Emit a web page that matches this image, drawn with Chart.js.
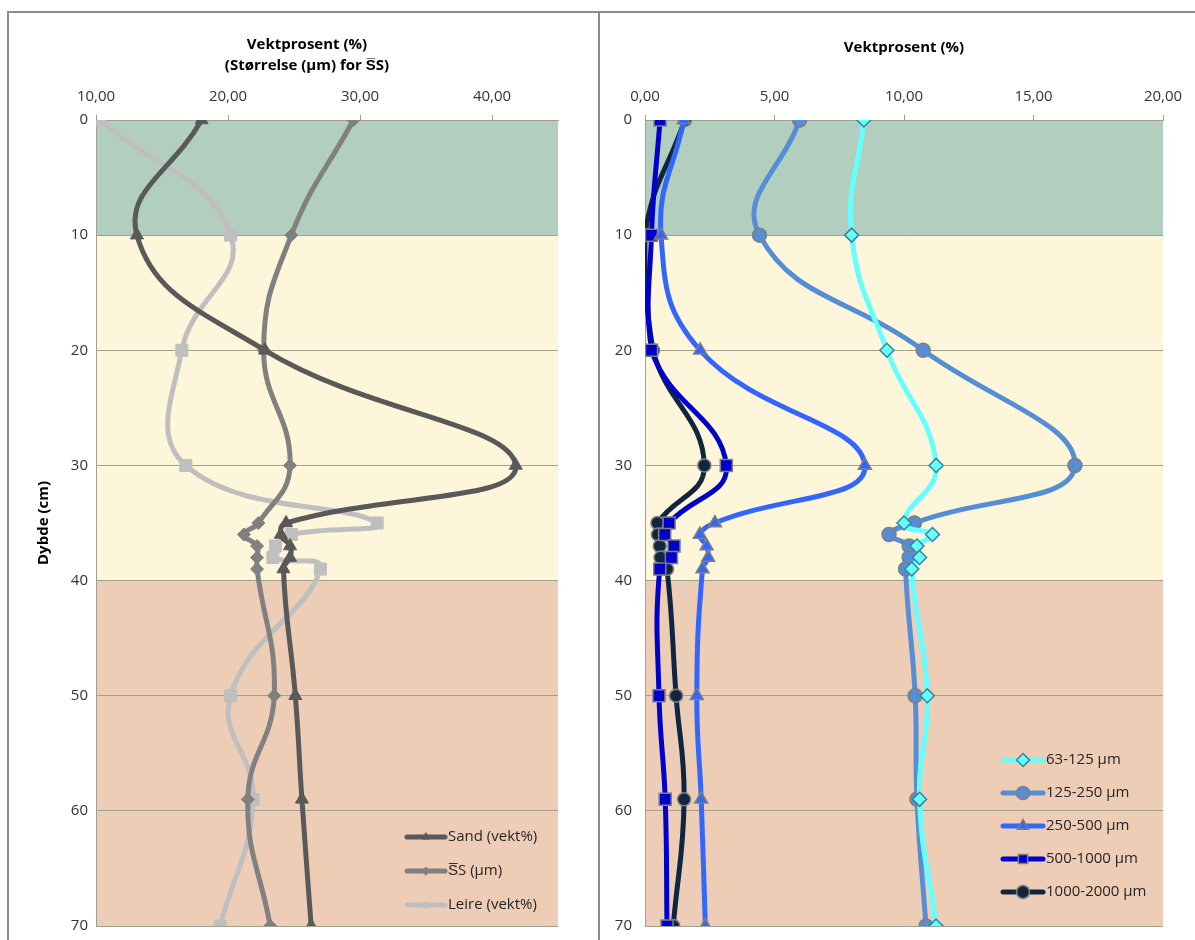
<!DOCTYPE html>
<html>
<head>
<meta charset="utf-8">
<script src="https://cdn.jsdelivr.net/npm/chart.js@4.4.1/dist/chart.umd.min.js"></script>
<style>
html,body{margin:0;padding:0;background:#fff;width:1195px;height:940px;overflow:hidden;position:relative}
.frame{position:absolute;box-sizing:border-box;border:2px solid #8c8c8c;border-bottom:none}
#f1{left:7px;top:11px;width:593px;height:929px}
#f2{left:598px;top:11px;width:600px;height:929px;border-right:none}
canvas{position:absolute;top:12px}
#c1{left:8px}
#c2{left:598px}
</style>
</head>
<body>
<div class="frame" id="f1"></div>
<div class="frame" id="f2"></div>
<canvas id="c1" width="590" height="944"></canvas>
<canvas id="c2" width="597" height="944"></canvas>
<script>
// ---------- data ----------
const depths = [0, 10, 20, 30, 35, 36, 37, 38, 39, 50, 59, 70];

const sand  = [18.0, 13.1, 22.8, 41.8, 24.4, 24.0, 24.7, 24.7, 24.2, 25.1, 25.6, 26.3];
const ssMean = [29.5, 24.8, 22.7, 24.7, 22.3, 21.2, 22.2, 22.2, 22.2, 23.5, 21.5, 23.2];
const leire = [10.3, 20.2, 16.5, 16.8, 31.3, 24.8, 23.6, 23.4, 27.0, 20.2, 21.9, 19.4];

const f63_125    = [8.45, 7.98, 9.34, 11.24, 10.0, 11.1, 10.5, 10.6, 10.3, 10.9, 10.6, 11.24];
const f125_250   = [5.97, 4.42, 10.74, 16.6, 10.4, 9.42, 10.2, 10.2, 10.06, 10.43, 10.5, 10.85];
const f250_500   = [1.5, 0.62, 2.13, 8.49, 2.7, 2.12, 2.38, 2.44, 2.22, 2.0, 2.17, 2.33];
const f500_1000  = [0.58, 0.25, 0.25, 3.14, 0.93, 0.76, 1.12, 1.02, 0.57, 0.54, 0.78, 0.85];
const f1000_2000 = [1.54, 0.0, 0.31, 2.29, 0.48, 0.5, 0.57, 0.6, 0.85, 1.2, 1.51, 1.09];

const leftLabels  = ['Sand (vekt%)', 'S\u0305S (\u00b5m)', 'Leire (vekt%)'];
const rightLabels = ['63-125 \u00b5m', '125-250 \u00b5m', '250-500 \u00b5m', '500-1000 \u00b5m', '1000-2000 \u00b5m'];

const leftTitle  = ['Vektprosent (%)', '(St\u00f8rrelse (\u00b5m) for S\u0305S)'];
const rightTitle = 'Vektprosent (%)';
const depthTitle = 'Dybde (cm)';

const leftXTicks  = [10, 20, 30, 40];
const leftXTickLabels = ['10,00', '20,00', '30,00', '40,00'];
const rightXTicks = [0, 5, 10, 15, 20];
const rightXTickLabels = ['0,00', '5,00', '10,00', '15,00', '20,00'];
const depthTicks = [0, 10, 20, 30, 40, 50, 60, 70];
const depthTickLabels = ['0', '10', '20', '30', '40', '50', '60', '70'];

const bandFrom = [0, 10, 40];
const bandTo   = [10, 40, 70];
const bandColors = ['#B2CEBF', '#FEF6DA', '#EDCDB5'];

// ---------- helpers ----------
const FONT = '"Open Sans", "Liberation Sans", sans-serif';
const GRID = '#A29E90';
const pts = (xs) => xs.map((v, i) => ({x: v, y: depths[i]}));

function series(label, values, color, style, radius, fill, border, bw) {
  return {
    label, data: pts(values), showLine: true,
    borderColor: color, borderWidth: 5, tension: 0.45,
    borderCapStyle: 'round', borderJoinStyle: 'round',
    pointStyle: style, pointRadius: radius, pointHoverRadius: radius,
    pointBackgroundColor: fill, pointBorderColor: border, pointBorderWidth: bw
  };
}

const bandsPlugin = {
  id: 'bands',
  beforeDraw(chart) {
    const {ctx, chartArea: a, scales: {y}} = chart;
    ctx.save();
    bandFrom.forEach((f, i) => {
      const y1 = y.getPixelForValue(f), y2 = y.getPixelForValue(bandTo[i]);
      ctx.fillStyle = bandColors[i];
      ctx.fillRect(a.left, Math.min(y1, y2), a.right - a.left, Math.abs(y2 - y1));
    });
    ctx.restore();
  }
};

const headPlugin = {
  id: 'head',
  afterDraw(chart, args, o) {
    if (!o.lines) return;
    const ctx = chart.ctx;
    ctx.save();
    ctx.fillStyle = '#000';
    ctx.font = 'bold 15px ' + FONT;
    ctx.textAlign = 'center';
    ctx.textBaseline = 'middle';
    o.lines.forEach((t, i) => ctx.fillText(t, o.x, o.y + i * o.dy));
    ctx.restore();
  }
};

const legendPlugin = {
  id: 'inLegend',
  afterDraw(chart, args, o) {
    const ctx = chart.ctx;
    ctx.save();
    chart.data.datasets.forEach((ds, i) => {
      const y = o.y + i * o.dy;
      ctx.strokeStyle = ds.borderColor;
      ctx.lineWidth = ds.borderWidth;
      ctx.lineCap = 'round';
      ctx.beginPath();
      ctx.moveTo(o.x, y);
      ctx.lineTo(o.x + o.len, y);
      ctx.stroke();
      ctx.fillStyle = ds.pointBackgroundColor;
      ctx.strokeStyle = ds.pointBorderColor;
      ctx.lineWidth = ds.pointBorderWidth;
      Chart.helpers.drawPoint(ctx, {pointStyle: ds.pointStyle, radius: o.r, rotation: 0, borderWidth: ds.pointBorderWidth}, o.x + o.len / 2, y);
      ctx.fillStyle = '#262626';
      ctx.font = '15px ' + FONT;
      ctx.textBaseline = 'middle';
      ctx.textAlign = 'left';
      ctx.fillText(ds.label, o.x + o.len + 3, y);
    });
    ctx.restore();
  }
};

function xScale(min, max, ticks, labels, axisHeight, title) {
  return {
    type: 'linear', position: 'top', min, max,
    afterBuildTicks: (s) => { s.ticks = ticks.map(v => ({value: v})); },
    afterFit: (s) => { s.height = axisHeight; },
    ticks: {
      padding: 9, color: '#333', font: {family: FONT, size: 15},
      callback: (v) => labels[ticks.indexOf(v)]
    },
    grid: {drawOnChartArea: false, drawTicks: true, tickLength: 5, color: GRID},
    border: {display: true, color: GRID, width: 1},
    title: title
  };
}

function yScale(width, pad, title) {
  return {
    type: 'linear', reverse: true, min: 0, max: 70,
    afterBuildTicks: (s) => { s.ticks = depthTicks.map(v => ({value: v})); },
    afterFit: (s) => { s.width = width; },
    ticks: {
      padding: pad, color: '#333', font: {family: FONT, size: 15},
      callback: (v) => depthTickLabels[depthTicks.indexOf(v)]
    },
    grid: {color: GRID, drawTicks: false, lineWidth: 1},
    border: {display: true, color: GRID, width: 1},
    title: title
  };
}

// ---------- left chart ----------
new Chart(document.getElementById('c1'), {
  type: 'scatter',
  data: {
    datasets: [
      series(leftLabels[0], sand,   '#595959', 'triangle', 7.5, '#595959', '#595959', 1),
      series(leftLabels[1], ssMean, '#808080', 'rectRot',  6.5, '#808080', '#808080', 1),
      series(leftLabels[2], leire,  '#BFBFBF', 'rect',     8.5, '#BFBFBF', '#BFBFBF', 1)
    ]
  },
  options: {
    responsive: false, animation: false, events: [],
    layout: {padding: {left: 0, right: 40, top: 0, bottom: 30}},
    plugins: {
      legend: {display: false}, tooltip: {enabled: false}, title: {display: false},
      head: {lines: leftTitle, x: 299, y: 33, dy: 21},
      inLegend: {x: 399, y: 825, dy: 34, len: 38, r: 4}
    },
    scales: {
      x: xScale(10, 45, leftXTicks, leftXTickLabels, 108, {display: false}),
      y: yScale(88, 8, {
        display: true, text: depthTitle, color: '#000',
        font: {family: FONT, size: 15, weight: 'bold', lineHeight: 1.2},
        padding: {top: 27, bottom: 0}
      })
    }
  },
  plugins: [bandsPlugin, legendPlugin, headPlugin]
});

// ---------- right chart ----------
new Chart(document.getElementById('c2'), {
  type: 'scatter',
  data: {
    datasets: [
      series(rightLabels[0], f63_125,    '#66FFFF', 'rectRot',  7,   '#66FFFF', '#31859C', 1.5),
      series(rightLabels[1], f125_250,   '#558ED5', 'circle',   7,   '#558ED5', '#7F7F7F', 1.5),
      series(rightLabels[2], f250_500,   '#3366FF', 'triangle', 7.5, '#3366FF', '#7F7F7F', 1.5),
      series(rightLabels[3], f500_1000,  '#0000CC', 'rect',     8.5, '#0000CC', '#7F7F7F', 1.5),
      series(rightLabels[4], f1000_2000, '#10253F', 'circle',   6.5, '#10253F', '#7F7F7F', 1.5)
    ]
  },
  options: {
    responsive: false, animation: false, events: [],
    layout: {padding: {left: 0, right: 32, top: 0, bottom: 30}},
    plugins: {
      legend: {display: false}, tooltip: {enabled: false}, title: {display: false},
      inLegend: {x: 405, y: 748, dy: 33, len: 40, r: 6.5}
    },
    scales: {
      x: xScale(0, 20, rightXTicks, rightXTickLabels, 108, {
        display: true, text: rightTitle, color: '#000',
        font: {family: FONT, size: 15, weight: 'bold', lineHeight: 1.5},
        padding: {top: 24, bottom: 0}
      }),
      y: yScale(47, 13, {display: false})
    }
  },
  plugins: [bandsPlugin, legendPlugin]
});
</script>
</body>
</html>
